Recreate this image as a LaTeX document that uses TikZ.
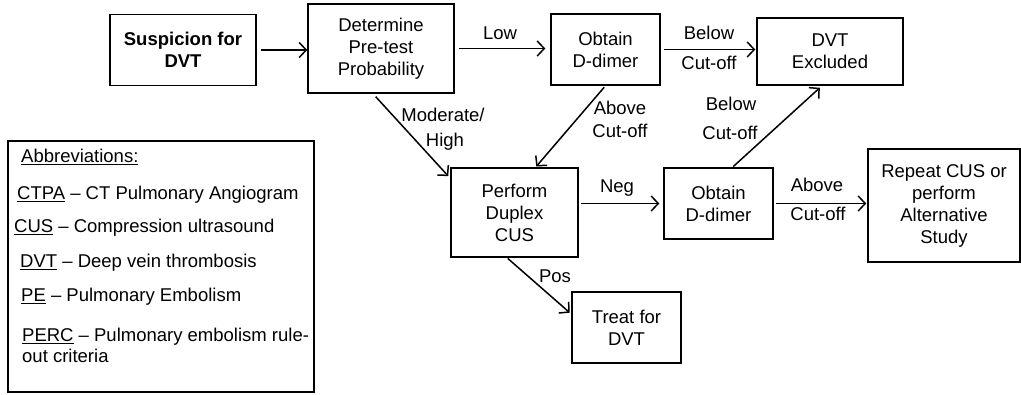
\documentclass[tikz,border=0pt]{standalone}
\usepackage{fontspec}
\setmainfont{Liberation Sans}
\usetikzlibrary{arrows.meta}

\begin{document}
\begin{tikzpicture}[x=1pt, y=-1pt, >={Straight Barb[length=7pt,width=15pt]},
  font=\fontsize{18.5}{22}\selectfont,
  box/.style={draw, line width=1.5pt, inner sep=0pt, align=center},
  conn/.style={->, line width=1.5pt},
  lbl/.style={inner sep=0pt, align=center},
  abbr/.style={anchor=west, inner sep=0pt, align=left}]

  \useasboundingbox (0,0) rectangle (1021,394);

  % Boxes (top row)
  \node[box, minimum width=146pt, minimum height=71pt, font=\fontsize{18.5}{22}\selectfont\bfseries] (susp) at (183,50) {Suspicion for\\DVT};
  \node[box, minimum width=146pt, minimum height=89pt] (det) at (381,48.5) {Determine\\Pre-test\\Probability};
  \node[box, minimum width=109pt, minimum height=71pt] (obt1) at (605.5,49.5) {Obtain\\D-dimer};
  \node[box, minimum width=146pt, minimum height=67pt] (excl) at (830,51.5) {DVT\\Excluded};

  % Boxes (lower rows)
  \node[box, minimum width=127pt, minimum height=89pt] (perf) at (514.5,212.5) {Perform\\Duplex\\CUS};
  \node[box, minimum width=109pt, minimum height=71pt] (obt2) at (718.5,203.5) {Obtain\\D-dimer};
  \node[box, minimum width=152pt, minimum height=113pt] (rep) at (944,205.5) {Repeat CUS or\\perform\\Alternative\\Study};
  \node[box, minimum width=109pt, minimum height=71pt] (treat) at (626.5,327.5) {Treat for\\DVT};

  % Connectors
  \draw[conn, shorten <=4pt] (susp.east) -- (susp.east -| det.west);
  \draw[conn, shorten <=4pt, shorten >=5pt] (det.east) -- (det.east -| obt1.west);
  \draw[conn, shorten <=3pt, shorten >=1pt] (obt1.east) -- (obt1.east -| excl.west);
  \draw[conn, shorten <=2pt, shorten >=1pt] (obt1.south) -- (perf.65);
  \draw[conn, shorten <=4pt, shorten >=3pt] ([xshift=-8pt]det.south) -- ([yshift=-11pt]perf.north west);
  \draw[conn, shorten <=2pt, shorten >=4pt] (obt2.west -| perf.east) -- (obt2.west);
  \draw[conn, shorten <=1pt, shorten >=3pt] ([xshift=14pt]obt2.north) -- ([xshift=-8pt]excl.south);
  \draw[conn, shorten <=2pt, shorten >=1pt] (obt2.east) -- (obt2.east -| rep.west);
  \draw[conn, shorten <=1pt, shorten >=2pt] ([xshift=-7.5pt]perf.south) -- ([yshift=13.5pt]treat.west);

  % Connector labels
  \node[lbl] (lLow) at (500,33) {Low};
  \node[lbl] (lBelowA) at (709,33) {Below};
  \node[lbl] (lCutA) at (709,63) {Cut-off};
  \node[lbl] (lAboveA) at (620,108) {Above};
  \node[lbl] (lCutB) at (620,131) {Cut-off};
  \node[lbl] (lMod) at (443,115) {Moderate/};
  \node[lbl] (lHigh) at (445,142) {High};
  \node[lbl] (lBelowB) at (731,104) {Below};
  \node[lbl] (lCutC) at (730,133) {Cut-off};
  \node[lbl] (lNeg) at (617,188) {Neg};
  \node[lbl] (lAboveB) at (817,185) {Above};
  \node[lbl] (lCutD) at (818,214) {Cut-off};
  \node[lbl] (lPos) at (555,276) {Pos};

  % Abbreviations
  \node[box, minimum width=306pt, minimum height=251pt] (abBox) at (161,266.5) {};
  \node[abbr] (abHead) at (21,157) {\underline{Abbreviations:}};
  \node[abbr] (abCtpa) at (17,195) {\underline{CTPA} -- CT Pulmonary Angiogram};
  \node[abbr] (abCus) at (14,228) {\underline{CUS} -- Compression ultrasound};
  \node[abbr] (abDvt) at (20,263) {\underline{DVT} -- Deep vein thrombosis};
  \node[abbr] (abPe) at (21,297) {\underline{PE} -- Pulmonary Embolism};
  \node[abbr, font=\fontsize{18.5}{21}\selectfont] (abPerc) at (22,345.5) {\underline{PERC} -- Pulmonary embolism rule-\\out criteria};
\end{tikzpicture}
\end{document}
